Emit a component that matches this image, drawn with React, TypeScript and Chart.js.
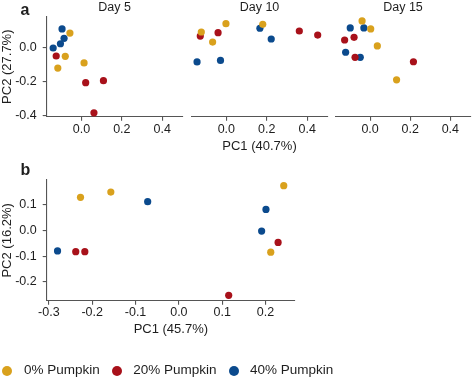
import React, { useEffect, useRef } from "react";
import { Chart, registerables } from "chart.js";

Chart.register(...registerables);

const FONT = "'Liberation Sans', Arial, Helvetica, sans-serif";
const TEXT = "#1e1e1e";
const AXIS = "#555555";

const GROUPS = ["0% Pumpkin", "20% Pumpkin", "40% Pumpkin"];
const GROUP_COLORS = ["#D9A11D", "#A8111A", "#0B4A8D"];
const FACET_TITLES = ["Day 5", "Day 10", "Day 15"];

// Panel a axes
const A_X_TICKS = [0.0, 0.2, 0.4];
const A_Y_TICKS = [-0.4, -0.2, 0.0];
const A_X_RANGE = [-0.172, 0.5];
const A_Y_RANGE = [-0.408, 0.18];
const A_X_TITLE = "PC1 (40.7%)";
const A_Y_TITLE = "PC2 (27.7%)";

// Panel b axes
const B_X_TICKS = [-0.3, -0.2, -0.1, 0.0, 0.1, 0.2];
const B_Y_TICKS = [-0.2, -0.1, 0.0, 0.1];
const B_X_RANGE = [-0.305, 0.268];
const B_Y_RANGE = [-0.273, 0.195];
const B_X_TITLE = "PC1 (45.7%)";
const B_Y_TITLE = "PC2 (16.2%)";

// Day 5
const DAY5_PC1_0 = [-0.057, -0.080, -0.117, 0.013];
const DAY5_PC2_0 = [0.084, -0.053, -0.122, -0.092];
const DAY5_PC1_20 = [-0.125, 0.021, 0.109, 0.062];
const DAY5_PC2_20 = [-0.051, -0.208, -0.196, -0.385];
const DAY5_PC1_40 = [-0.096, -0.086, -0.104, -0.140];
const DAY5_PC2_40 = [0.108, 0.053, 0.021, -0.004];

// Day 10
const DAY10_PC1_0 = [-0.124, -0.002, -0.068, 0.180];
const DAY10_PC2_0 = [0.090, 0.139, 0.031, 0.135];
const DAY10_PC1_20 = [-0.129, -0.041, 0.361, 0.452];
const DAY10_PC2_20 = [0.066, 0.086, 0.096, 0.072];
const DAY10_PC1_40 = [0.166, 0.222, -0.145, -0.029];
const DAY10_PC2_40 = [0.112, 0.049, -0.086, -0.077];

// Day 15
const DAY15_PC1_0 = [-0.040, 0.003, 0.036, 0.132];
const DAY15_PC2_0 = [0.155, 0.108, 0.008, -0.191];
const DAY15_PC1_20 = [-0.127, -0.080, -0.075, 0.216];
const DAY15_PC2_20 = [0.043, 0.059, -0.059, -0.085];
const DAY15_PC1_40 = [-0.099, -0.031, -0.122, -0.049];
const DAY15_PC2_40 = [0.114, 0.114, -0.029, -0.059];

// Panel b
const B_PC1_0 = [-0.227, -0.157, 0.242, 0.212];
const B_PC2_0 = [0.128, 0.148, 0.173, -0.085];
const B_PC1_20 = [-0.238, -0.217, 0.229, 0.115];
const B_PC2_20 = [-0.083, -0.083, -0.047, -0.252];
const B_PC1_40 = [-0.072, 0.201, 0.191, -0.280];
const B_PC2_40 = [0.111, 0.081, -0.003, -0.080];

type Pair = [number[], number[]];

function datasets(groups: Pair[]) {
  return groups.map(([xs, ys], i) => ({
    label: GROUPS[i],
    data: xs.map((x, j) => ({ x, y: ys[j] })),
    backgroundColor: GROUP_COLORS[i],
    borderColor: GROUP_COLORS[i],
    borderWidth: 0,
    pointRadius: 3.6,
    pointHoverRadius: 3.6,
    clip: false as any,
  }));
}

function scale(opts: {
  range: number[];
  ticks: number[];
  display: boolean;
  title?: string;
  size: number;
  horizontal: boolean;
  tickPad: number;
  titlePad: any;
}) {
  return {
    type: "linear" as const,
    display: opts.display,
    min: opts.range[0],
    max: opts.range[1],
    afterBuildTicks: (s: any) => {
      s.ticks = opts.ticks.map((v) => ({ value: v }));
    },
    afterFit: (s: any) => {
      if (!opts.display) return;
      if (opts.horizontal) s.height = opts.size;
      else s.width = opts.size;
    },
    border: { display: true, color: AXIS, width: 1.1 },
    grid: {
      display: true,
      drawOnChartArea: false,
      drawTicks: true,
      tickLength: 4,
      color: AXIS,
      lineWidth: 1.1,
    },
    ticks: {
      color: TEXT,
      font: { family: FONT, size: 12.5 },
      padding: opts.tickPad,
      maxRotation: 0,
      autoSkip: false,
      callback: (v: any) => Number(v).toFixed(1),
    },
    title: opts.title
      ? {
          display: true,
          text: opts.title,
          color: TEXT,
          font: { family: FONT, size: 13 },
          padding: opts.titlePad,
        }
      : { display: false },
  };
}

const facetTitlePlugin = {
  id: "facetTitle",
  afterDraw(chart: any, _args: any, opts: any) {
    if (!opts || !opts.text) return;
    const { ctx, chartArea } = chart;
    ctx.save();
    ctx.font = `12.5px ${FONT}`;
    ctx.fillStyle = TEXT;
    ctx.textAlign = "center";
    ctx.textBaseline = "alphabetic";
    ctx.fillText(opts.text, (chartArea.left + chartArea.right) / 2, opts.y);
    ctx.restore();
  },
};

export default function App() {
  const f1 = useRef<HTMLCanvasElement>(null);
  const f2 = useRef<HTMLCanvasElement>(null);
  const f3 = useRef<HTMLCanvasElement>(null);
  const bRef = useRef<HTMLCanvasElement>(null);

  useEffect(() => {
    const charts: Chart[] = [];
    const facetGroups: Pair[][] = [
      [
        [DAY5_PC1_0, DAY5_PC2_0],
        [DAY5_PC1_20, DAY5_PC2_20],
        [DAY5_PC1_40, DAY5_PC2_40],
      ],
      [
        [DAY10_PC1_0, DAY10_PC2_0],
        [DAY10_PC1_20, DAY10_PC2_20],
        [DAY10_PC1_40, DAY10_PC2_40],
      ],
      [
        [DAY15_PC1_0, DAY15_PC2_0],
        [DAY15_PC1_20, DAY15_PC2_20],
        [DAY15_PC1_40, DAY15_PC2_40],
      ],
    ];
    const refs = [f1, f2, f3];
    const paddings = [
      { left: 0, right: 2, top: 16.7, bottom: 0 },
      { left: 3.5, right: 2, top: 16.7, bottom: 0 },
      { left: 3, right: 0.5, top: 16.7, bottom: 0 },
    ];
    refs.forEach((r, i) => {
      if (!r.current) return;
      charts.push(
        new Chart(r.current, {
          type: "scatter",
          data: { datasets: datasets(facetGroups[i]) as any },
          plugins: [facetTitlePlugin as any],
          options: {
            responsive: false,
            animation: false,
            devicePixelRatio: 1,
            events: [],
            layout: { padding: paddings[i] },
            plugins: {
              legend: { display: false },
              tooltip: { enabled: false },
              facetTitle: { text: FACET_TITLES[i], y: 11 },
            } as any,
            scales: {
              x: scale({
                range: A_X_RANGE,
                ticks: A_X_TICKS,
                display: true,
                title: i === 1 ? A_X_TITLE : undefined,
                size: 43.3,
                horizontal: true,
                tickPad: 1.8,
                titlePad: { top: 0, bottom: 5.7 },
              }),
              y: scale({
                range: A_Y_RANGE,
                ticks: A_Y_TICKS,
                display: i === 0,
                title: i === 0 ? A_Y_TITLE : undefined,
                size: 46.7,
                horizontal: false,
                tickPad: 6,
                titlePad: { top: 0, bottom: 0 },
              }),
            } as any,
          },
        })
      );
    });

    if (bRef.current) {
      charts.push(
        new Chart(bRef.current, {
          type: "scatter",
          data: {
            datasets: datasets([
              [B_PC1_0, B_PC2_0],
              [B_PC1_20, B_PC2_20],
              [B_PC1_40, B_PC2_40],
            ]) as any,
          },
          options: {
            responsive: false,
            animation: false,
            devicePixelRatio: 1,
            events: [],
            layout: { padding: { left: 0, right: 179, top: 20, bottom: 0 } },
            plugins: {
              legend: { display: false },
              tooltip: { enabled: false },
            },
            scales: {
              x: scale({
                range: B_X_RANGE,
                ticks: B_X_TICKS,
                display: true,
                title: B_X_TITLE,
                size: 39.3,
                horizontal: true,
                tickPad: 0.8,
                titlePad: { top: 0, bottom: 3.2 },
              }),
              y: scale({
                range: B_Y_RANGE,
                ticks: B_Y_TICKS,
                display: true,
                title: B_Y_TITLE,
                size: 46.7,
                horizontal: false,
                tickPad: 6,
                titlePad: { top: 0, bottom: 0 },
              }),
            } as any,
          },
        })
      );
    }
    return () => charts.forEach((c) => c.destroy());
  }, []);

  const legendX = [{ dot: 7.3, text: 24 }, { dot: 116.7, text: 133.3 }, { dot: 234.3, text: 250 }];

  return (
    <div
      style={{
        position: "absolute",
        left: 0,
        top: 0,
        width: 474,
        height: 379,
        background: "#ffffff",
        fontFamily: FONT,
        color: TEXT,
        overflow: "hidden",
      }}
    >
      <canvas ref={f1} width={186} height={160} style={{ position: "absolute", left: 0, top: 0 }} />
      <canvas ref={f2} width={143} height={160} style={{ position: "absolute", left: 188, top: 0 }} />
      <canvas ref={f3} width={142} height={160} style={{ position: "absolute", left: 332, top: 0 }} />
      <canvas ref={bRef} width={474} height={180} style={{ position: "absolute", left: 0, top: 160 }} />
      <div
        style={{
          position: "absolute",
          left: 20.5,
          top: 0,
          fontWeight: "bold",
          fontSize: 16,
          lineHeight: "20px",
        }}
      >
        a
      </div>
      <div
        style={{
          position: "absolute",
          left: 20.5,
          top: 160,
          fontWeight: "bold",
          fontSize: 16,
          lineHeight: "20px",
        }}
      >
        b
      </div>
      {GROUPS.map((g, i) => (
        <React.Fragment key={g}>
          <div
            style={{
              position: "absolute",
              left: legendX[i].dot - 5,
              top: 370.7 - 5,
              width: 10,
              height: 10,
              borderRadius: "50%",
              background: GROUP_COLORS[i],
            }}
          />
          <div
            style={{
              position: "absolute",
              left: legendX[i].text,
              top: 370.7 - 8.5,
              fontSize: 13.5,
              lineHeight: "16px",
              whiteSpace: "nowrap",
            }}
          >
            {g}
          </div>
        </React.Fragment>
      ))}
    </div>
  );
}
